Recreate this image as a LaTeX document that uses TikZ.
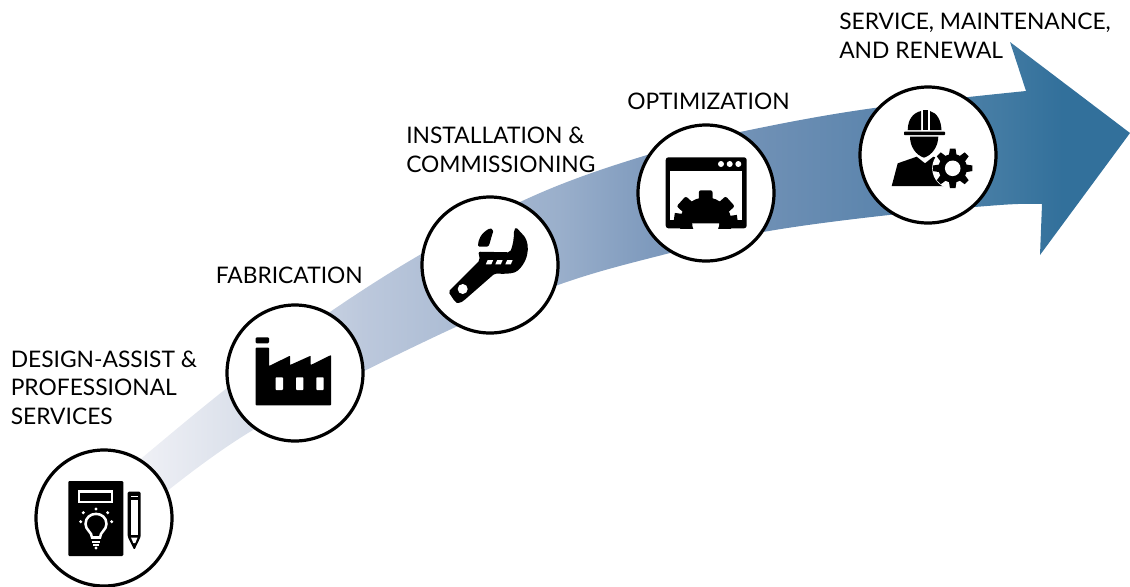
\documentclass[tikz,border=0pt]{standalone}
\usepackage{fontspec}
\setmainfont{Lato}
\usetikzlibrary{calc}
\definecolor{arrA}{HTML}{F0F1F6}
\definecolor{arrB}{HTML}{D8DEE9}
\definecolor{arrC}{HTML}{BCC8DC}
\definecolor{arrD}{HTML}{9AAFCB}
\definecolor{arrE}{HTML}{7E9ABD}
\definecolor{arrF}{HTML}{6F90B5}
\definecolor{arrG}{HTML}{5C85AD}
\definecolor{arrH}{HTML}{437BA3}
\definecolor{arrI}{HTML}{32709B}
% shade maps the picture's width onto 25bp..75bp: bp = 25 + x*0.04425
\pgfdeclarehorizontalshading{flowshade}{100bp}{
 color(0bp)=(arrA); color(31bp)=(arrA); color(36.2bp)=(arrB); color(41.1bp)=(arrC); color(49.7bp)=(arrD); color(53.8bp)=(arrE); color(58.6bp)=(arrF); color(63.9bp)=(arrG); color(69.2bp)=(arrH); color(72bp)=(arrI); color(100bp)=(arrI)}
\tikzset{
 x=0.75pt,y=-0.75pt,
 stepdisc/.style={circle,draw=black,line width=2.4pt,fill=white,minimum size=136*0.75pt,inner sep=0pt},
 lab/.style={anchor=base west,align=left,font=\fontsize{17.1}{21.4}\selectfont,inner sep=0pt,text=black},
 ico/.style={fill=black,draw=none},
 cut/.style={fill=white,draw=none}
}
\begin{document}
\begin{tikzpicture}
\useasboundingbox (0,0) rectangle (1130,586);
% arrow
\begin{scope}
\clip plot[smooth,tension=0.6] coordinates {(130,468) (227,388) (327,314) (430,249) (540,193) (647,155) (740,132) (867,109) (1026,91)}
 -- (1010,42) -- (1130,133) -- (1040,255) --
 plot[smooth,tension=0.6] coordinates {(1042,204) (1000,205) (880,216) (763,232) (670,253) (558,285) (430,339) (253,430) (150,505)} -- cycle;
\shade[shading=flowshade] (0,0) rectangle (1130,586);
\end{scope}
\node[stepdisc] (d1) at (104,518) {};
\node[stepdisc] (d2) at (295,373) {};
\node[stepdisc] (d3) at (490,265) {};
\node[stepdisc] (d4) at (706,193) {};
\node[stepdisc] (d5) at (928,155) {};
% labels
\node[lab] (t1) at (10.5,424.5) {DESIGN-ASSIST \&\\PROFESSIONAL\\SERVICES};
\node[lab] (t2) at (215.5,283.5) {FABRICATION};
\node[lab] (t3) at (406,172.5) {INSTALLATION \&\\COMMISSIONING};
\node[lab] (t4) at (627,109.5) {OPTIMIZATION};
\node[lab] (t5) at (839,58.5) {SERVICE, MAINTENANCE,\\AND RENEWAL};
% icon 1
\fill[ico,rounded corners=0.8] (68.3,481) rectangle (123.3,556);
\draw[white,line width=2] (79,491.3) rectangle (112,502);
\fill[ico,rounded corners=1] (127.7,491.7) -- (140.7,491.7) -- (140.7,536.7) -- (134.3,550) -- (127.7,536.7) -- cycle;
\fill[cut] (131,500) rectangle (137.5,535);
\fill[cut] (131,496) rectangle (137.5,497.3);
\fill[cut] (131,537.5) -- (137.5,537.5) -- (135.3,543) -- (133.3,543) -- cycle;
\draw[white,line width=1.9] (92,537.5) .. controls (92,532) and (85.5,530) .. (85.5,524) .. controls (85.5,510.5) and (106.5,510.5) .. (106.5,524) .. controls (106.5,530) and (100,532) .. (100,537.5) -- cycle;
\draw[white,line width=1.5] (92,541.5) -- (100,541.5) (93,544.8) -- (99,544.8);
\foreach \a/\b in {96/509,83.3/512.7,107.7/512.7,80.7/521.7,111.7/521.7,96/548}{\fill[white] (\a,\b) circle (1.7);}
% icon 2
\fill[ico,rounded corners=0.8] (255.7,337.3) rectangle (269,343.3);
\fill[ico,rounded corners=0.5] (255.7,347.7) -- (269,347.7) -- (269,366) -- (290,355.7) -- (290,365) -- (310.7,355.7) -- (310.7,365) -- (331,355) -- (331,405.3) -- (255.7,405.3) -- cycle;
\foreach \a in {279.3,299.7,320}{\fill[cut,rounded corners=0.6] (\a-3.7,377.3) rectangle (\a+3.7,390);}
% icon 3
\fill[ico,rounded corners=1.5] (448.3,291.7) -- (480,260) -- (478.3,251.7) -- (510,252.3) .. controls (513,245) and (514,238) .. (514,230) .. controls (516,227) and (518,229) .. (520,232) .. controls (530,240) and (531,258) .. (516.7,271.7) .. controls (510,274) and (502,274) .. (495,273.3) -- (463.3,301) .. controls (460,303) and (457,303) .. (455,301.7) -- cycle;
\fill[ico,rounded corners=1] (478,246.7) .. controls (478,240) and (481,233) .. (490,228.3) .. controls (493,229) and (493,232) .. (492.7,233) .. controls (491,238) and (490,243) .. (488.3,246.7) -- cycle;
\fill[white] (462.7,289) circle (5);
\foreach \a in {489.5,499,509}{\fill[white] (\a-3.7,264.3) -- (\a+1.8,264.3) -- (\a+3.7,260) -- (\a-1.8,260) -- cycle;}
% icon 4
\fill[ico,rounded corners=2] (665.7,157.3) rectangle (746.7,228.3);
\fill[cut] (670,170.7) rectangle (742.3,219.5);
\foreach \a in {721,729.7,738.3}{\fill[white] (\a,164) circle (3);}
\begin{scope}
\clip (665.7,157.3) rectangle (746.7,228.3);
\fill[ico] (705.7,223.3) circle (26);
\foreach \r in {-48,0,48}{\fill[ico,rounded corners=1.5,shift={(705.7,223.3)},rotate=\r] (-6.8,-33) rectangle (6.8,-20);}
\foreach \r in {-82,82}{\fill[ico,shift={(705.7,223.3)},rotate=\r] (-4,-32) rectangle (6,-20);}
\fill[white] (692.2,223.3) arc[start angle=180,end angle=0,radius=13.5] -- cycle;
\end{scope}
% icon 5
\fill[ico] (907.7,130) .. controls (908,119) and (913,113) .. (921,111) -- (921,130) -- cycle;
\fill[ico] (923.3,110) rectangle (927.7,130);
\fill[ico] (930,111) .. controls (937,113) and (941,120) .. (941.5,130) -- (930,130) -- cycle;
\fill[ico,rounded corners=0.5] (904,131.7) rectangle (945,135);
\fill[ico] (910,136.7) -- (938.3,136.7) .. controls (938,147) and (932,155) .. (924,157.7) .. controls (916,155) and (910,147) .. (910,136.7) -- cycle;
\fill[ico] (897.7,163.3) -- (916.7,156.7) -- (925,163.3) -- (933.3,156.7) -- (940,159) -- (946.7,186) -- (891.7,186) -- cycle;
\fill[white] (952.7,168.3) circle (20.5);
\begin{scope}[shift={(952.7,168.3)}]
\foreach \r in {0,45,...,315}{\fill[ico,rotate=\r] (-4,-12) -- (-2.8,-19.7) -- (2.8,-19.7) -- (4,-12) -- cycle;}
\fill[ico] (0,0) circle (14.3);
\fill[white] (0,0) circle (7.8);
\end{scope}
\end{tikzpicture}
\end{document}
